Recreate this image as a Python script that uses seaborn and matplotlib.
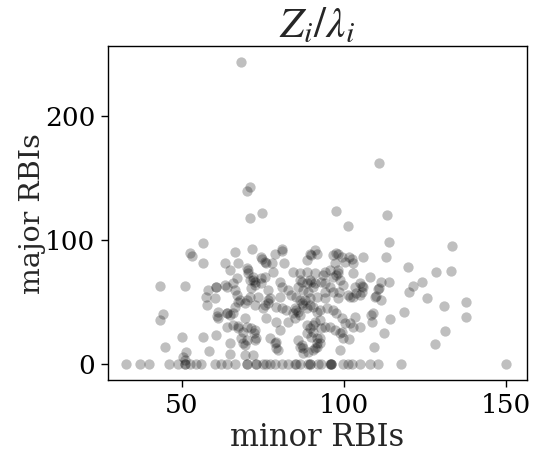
import matplotlib
matplotlib.use("Agg")
import matplotlib.pyplot as plt
import seaborn as sns
import pandas as pd

# minor RBIs (x) / major RBIs (y) for players with major RBIs > 0
pts_x = [68.2, 111, 71, 70, 71, 74.9, 97.7, 113.4, 101.4, 114, 133.5, 113, 106, 119.9, 128.6, 133.2,
         124.3, 121.4, 120.2, 125.6, 131, 137.8, 137.8, 118.6, 114.2, 131.3, 128.3, 109.4, 112.3, 98.9,
         101.5, 114, 110.6, 110, 108, 109, 108.8, 102.9, 101.5, 97.5, 91, 88.5, 105.5, 103.7, 99.8, 98.6,
         102.9, 111, 111.6,
         56.6, 52.5, 53, 56.6, 43.2, 50.9, 44.2, 43.4, 50.2, 56.6, 60.7, 44.9, 51.2, 50.4, 51, 58.3,
         58.1, 57.6, 57.8, 60.2, 60.7, 61.2, 60.9, 63.8, 63.8, 63.3, 66.4, 67.4, 64.8, 66.9, 65.8, 66.4,
         66.9, 66.4, 65.8, 63.8, 67.4, 64.8, 64.8, 69.4, 70, 69.4, 67.9, 71.8, 70.5, 72, 72.5, 71.5,
         73.6, 74.6, 74.8, 75.6, 77.7, 78.2, 78.9, 80.8, 81, 81.6, 80.2, 80.8, 76.6, 77.2, 75.1, 75.6,
         79.2, 76.1, 70, 71.5, 72.3, 72.5, 70, 68.9, 72, 69.4, 77.2, 78.7, 79.2, 80.2, 82.8, 84.4, 86.4,
         88.5, 89.5, 90.5, 89.8, 88.5, 85.4, 86.4, 88, 88.5, 90.5, 85.4, 86.4, 84.9, 88.5, 90.5, 88.5,
         90.5, 85.9, 86.4, 87.4, 89, 90.5,
         71, 76.6, 80.2, 89.5, 91.6, 94.1, 98.2, 101.9, 105, 109.6, 111.6, 72.5, 76.6, 80.8, 82.3, 84.9,
         85.9, 84.4, 87.4, 89.5, 91.6, 92.6, 94.7, 96.7, 99.3, 100.3, 103.4, 105, 108.5, 72.5, 73, 79.2,
         79.2, 79.7, 87, 89.5, 91, 93.1, 94.1, 90, 91.6, 92.6, 91.6, 95.7, 97.2, 98.8, 99.8,
         74.3, 76.1, 89.5, 91.6, 96.7, 98.2, 99.3, 100.3, 102.4, 97.2, 98.2, 94.1, 95.7, 98.2, 91, 87,
         90, 91, 93.1, 85.9, 87.4, 89, 94.1, 95.7, 98.8, 103.4, 105, 106, 105.5, 82.8, 83.8, 75.6, 74.6,
         72, 72.5, 70, 70.5, 71, 94.1, 96.7, 101.3, 102.9,
         60.7, 63.3, 61.2, 63.8, 64.8, 67.4, 65.8, 67.4, 68.9, 68.4, 69.4,
         86.4, 93.6, 97.7, 96.7, 87, 97.7, 101.9, 102.9, 92.6, 99.3, 91.6, 92.6, 91, 87.4]
pts_y = [243.5, 162, 142.7, 139, 118, 121.5, 123.4, 120, 111, 98.6, 95, 86.5, 86, 78, 74.5, 75,
         66.4, 63, 57.8, 53, 46.8, 49.7, 37.6, 41.7, 36.3, 26.9, 16.1, 13.5, 25.2, 11,
         20, 66, 60.5, 55, 70, 41, 34, 73, 86, 89.5, 92, 84, 63, 57, 64, 58,
         81, 61, 66.4,
         97.3, 89.8, 87, 81, 63, 63, 40.3, 35.5, 22, 22, 23.4, 14, 10, 6, 3, 10.7,
         59.7, 54, 47.6, 53, 62, 42, 38.7, 41, 62, 81, 90, 81, 76, 69, 65, 59.7,
         55.6, 46, 41, 30, 30.6, 16.6, 7.8, 36.8, 51.6, 49, 51.6, 92.7, 75.8, 70.4, 66.4, 61,
         54, 69, 85, 82, 81, 74.4, 89, 93, 91, 81, 66.4, 62, 59.7, 53, 45, 47.6,
         46, 36.8, 30, 28.8, 24.7, 19.4, 19.4, 16.6, 7.3, 7.3, 20.7, 16.6, 12.6, 27.4, 34, 74.4, 67.7,
         65, 67.7, 62, 88, 74.4, 54, 51.6, 51.6, 45, 46, 43.5, 39.5, 36.8, 31.5, 31.5, 24.7,
         26, 19.4, 14, 12.6, 10, 11,
         54, 51.6, 54, 53, 54, 53, 53, 54, 55.6, 54, 51.6, 47.6, 49, 45, 43.5, 45,
         42, 41, 47.6, 47.6, 42, 43.5, 45, 43.5, 36.8, 32.8, 38, 30, 39.5, 27.4, 20.7, 34,
         18, 11.3, 15.3, 28.8, 34, 28.8, 30, 22, 16.6, 20.7, 14, 30, 27.4, 24.7, 20.7,
         86, 81, 89, 89, 88, 89, 86.5, 82.5, 85, 81, 75.8, 74.4, 75.8, 73, 73, 66.4,
         66.4, 65, 66.4, 62, 59.7, 58.3, 65, 62, 67.7, 62, 65, 62, 58.3, 59.7, 55.6, 70.4, 65,
         67.7, 63.7, 77, 73, 67.7, 58.3, 58.3, 55.6, 54,
         62, 63.7, 36.8, 41, 39.5, 50, 31.5, 28.8, 26, 20.7, 15.3,
         73, 72, 72, 70, 49, 41, 32.8, 30, 35.5, 26, 20.7, 16.6, 12.6, 8.6]

# players with zero major RBIs
zero_x = [32.9, 37, 39.8, 46, 48.9, 50.9, 50.9, 52.5, 54.5, 55.8, 60.2, 62.2, 64.1, 66.4, 70, 70,
          73, 73, 75.1, 76.1, 77.2, 78.7, 80.8, 82.8, 84.9, 85.4, 86.4, 89, 89.5, 89.5, 92.1, 93,
          95.7, 96, 96, 96, 99.8, 101.3, 102.4, 105, 108, 110.6, 117.6, 150.2]
zero_y = [0] * len(zero_x)

df = pd.DataFrame({"minor": pts_x + zero_x, "major": pts_y + zero_y})

sns.set_theme(style="ticks")
plt.rcParams["font.family"] = ["DejaVu Serif"]
plt.rcParams["mathtext.fontset"] = "stix"

fig = plt.figure(figsize=(5.37, 4.57), dpi=100)
ax = fig.add_axes([0.201, 0.168, 0.780, 0.731])
sns.scatterplot(data=df, x="minor", y="major", ax=ax, color="black", alpha=0.25,
                s=55, linewidth=0)
ax.set_xlim(27.2, 156.5)
ax.set_ylim(-13, 256)
ax.set_xticks([50, 100, 150])
ax.set_yticks([0, 100, 200])
ax.tick_params(labelsize=19, length=5, width=1, colors="black", pad=4)
ax.set_xlabel("minor RBIs", fontsize=22, labelpad=3)
ax.set_ylabel("major RBIs", fontsize=20.5, labelpad=-1)
ax.set_title(r"$Z_i/\lambda_i$", fontsize=31, pad=6)
for sp in ax.spines.values():
    sp.set_color("black")
    sp.set_linewidth(1)
fig.savefig("out.png", dpi=100)
